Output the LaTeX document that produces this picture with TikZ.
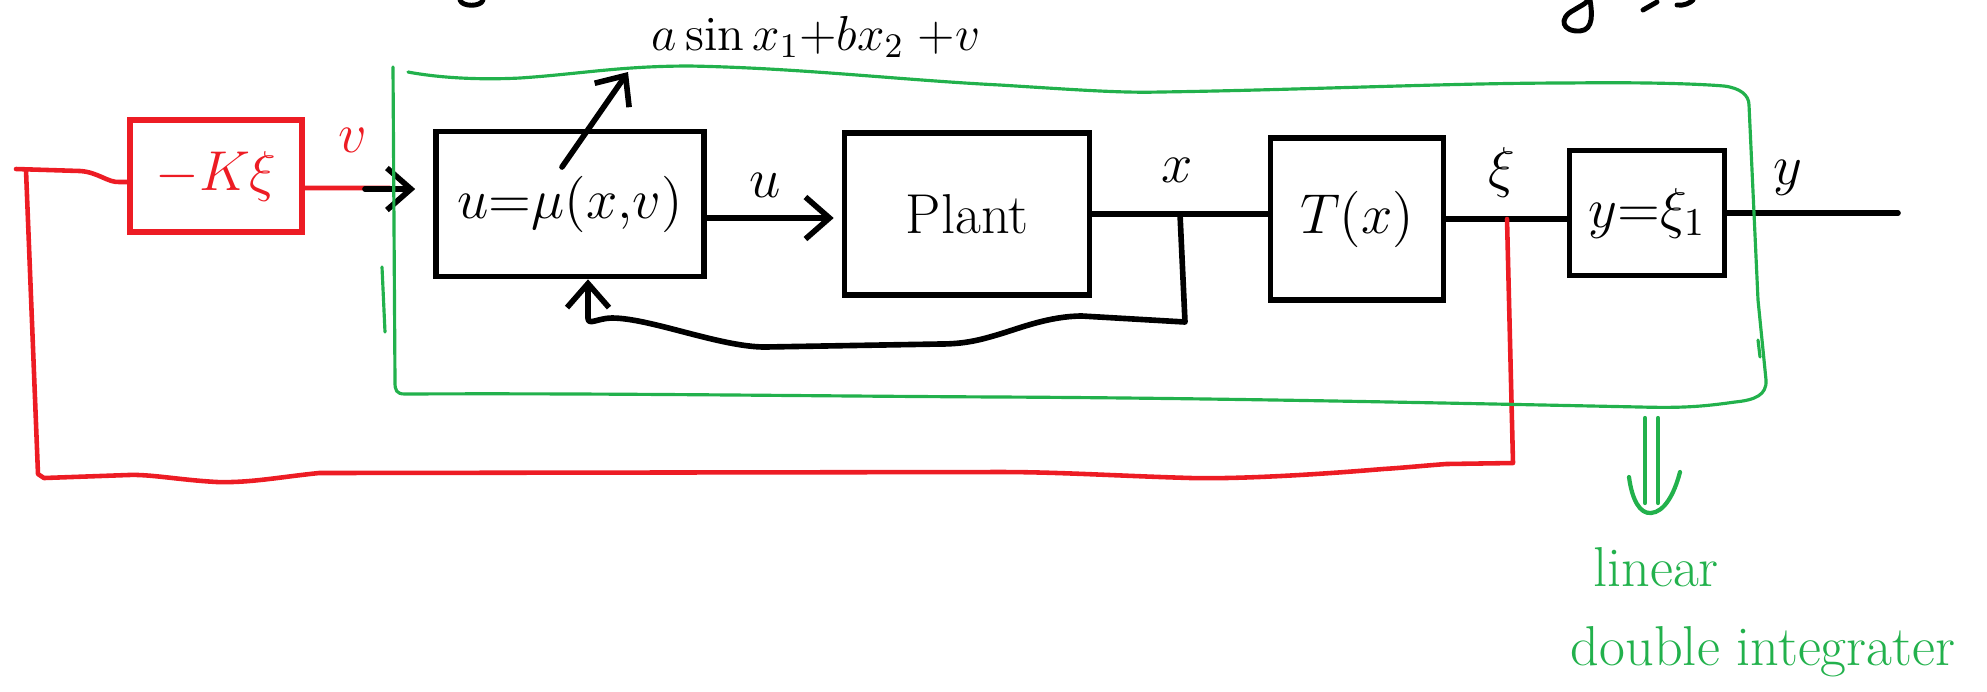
\RequirePackage{fix-cm}
\documentclass[tikz,border=0pt]{standalone}
\usepackage{fontspec}
\usetikzlibrary{arrows.meta,calc}
\definecolor{pred}{HTML}{ED1C24}
\definecolor{pgreen}{HTML}{22B14C}
\begin{document}
\begin{tikzpicture}[x=0.1mm,y=-0.1mm,
  wire/.style={line width=1.6pt, line cap=round, line join=round},
  arr/.style={wire, -{Straight Barb[length=2.4mm,width=4.2mm,line width=1.6pt]}},
  blk/.style={draw, line width=1.6pt, inner sep=0pt, font=\fontsize{16}{19}\selectfont},
  lbl/.style={inner sep=1pt, font=\fontsize{16}{19}\selectfont},
  annot/.style={inner sep=1pt, font=\fontsize{14}{17}\selectfont},
  redline/.style={wire, pred, line width=1.3pt},
  grline/.style={pgreen, line width=0.9pt, line cap=round, line join=round},
  gtext/.style={pgreen, inner sep=1pt, font=\fontsize{16}{19}\selectfont}]
\useasboundingbox (0,0) rectangle (1987,691);

% blocks
\node[blk, pred, minimum width=17.2mm, minimum height=11.2mm] (K) at (216,176) {$-K\xi$};
\node[blk, minimum width=26.8mm, minimum height=14.5mm] (U) at (570,204) {$u{=}\mu(x{,}v)$};
\node[blk, minimum width=24.5mm, minimum height=16.2mm] (P) at (967,214) {Plant};
\node[blk, minimum width=17.3mm, minimum height=16.2mm] (T) at (1357,219) {$T(x)$};
\node[blk, minimum width=15.5mm, minimum height=12.5mm] (Y) at (1647,213) {$y{=}\xi_1$};

% labels
\node[lbl, pred] (lv) at (353,140) {$v$};
\node[lbl] (lu) at (765,185) {$u$};
\node[lbl] (lx) at (1177,170) {$x$};
\node[lbl] (lxi) at (1502,172) {$\xi$};
\node[lbl] (ly) at (1788,178) {$y$};
\node[annot] (ann) at (816,37) {$a\sin x_1{+}bx_2\;{+}v$};
\node[gtext] (lin) at (1656,567) {linear};
\node[gtext] (dbl) at (1763,652) {double integrater};

% coordinates
\coordinate (rEnd) at (390,188);
\coordinate (vIn) at (365,189);
\coordinate (xBr) at (1180,214);
\coordinate (xiBr) at (1507,219);
\coordinate (yOut) at (1898,213);
\coordinate (annFrom) at (562,167);
\coordinate (annTip) at (628,72);

% v input
\draw[redline] ([yshift=-1.2mm]K.east) -- (rEnd);
\draw[arr, shorten >=1.8mm] (vIn) -- (vIn -| U.west);

% forward path
\draw[arr, shorten >=0.8mm] ([yshift=-1.4mm]U.east) -- ([yshift=-1.4mm]U.east -| P.west);
\draw[wire] (P.east) -- (P.east -| T.west);
\draw[wire] (T.east) -- (T.east -| Y.west);
\draw[wire] (Y.east) -- (yOut);

% state feedback into controller
\draw[arr] (xBr) -- (1185,322) -- (1082,316)
  .. controls (1050,316) and (1020,328) .. (1000,334)
  .. controls (980,340) and (965,344) .. (940,344)
  -- (765,347)
  .. controls (720,347) and (650,318) .. (612,318)
  .. controls (598,318) and (588,326) .. (588,318)
  -- ([xshift=1.8mm]U.south);

% annotation arrow
\draw[arr] (annFrom) -- (annTip);

% red outer loop
\draw[redline] (xiBr) -- (1513,463) -- (1446,464)
  .. controls (1420,466) and (1400,468) .. (1383,469)
  .. controls (1300,476) and (1230,479) .. (1191,478)
  .. controls (1120,476) and (1060,472) .. (1000,472)
  -- (319,473)
  .. controls (280,477) and (250,483) .. (217,482)
  .. controls (180,480) and (150,474) .. (128,475)
  -- (44,478) -- (38,474) -- (26,170)
  (16,169) -- (80,171)
  .. controls (98,172) and (108,183) .. (120,182)
  -- ([yshift=-0.6mm]K.west);

% green region
\draw[grline] (408,72)
  .. controls (440,78) and (480,80) .. (520,78)
  .. controls (580,74) and (620,66) .. (690,66)
  .. controls (800,68) and (900,80) .. (1000,85)
  .. controls (1080,90) and (1120,93) .. (1160,92)
  .. controls (1300,90) and (1450,83) .. (1566,83)
  .. controls (1650,82) and (1700,84) .. (1724,86)
  .. controls (1740,88) and (1749,95) .. (1749,105)
  -- (1758,300) -- (1766,380)
  .. controls (1767,395) and (1755,400) .. (1735,402)
  .. controls (1700,407) and (1680,408) .. (1640,407)
  .. controls (1400,402) and (1200,398) .. (1000,397)
  .. controls (800,396) and (600,393) .. (405,394)
  .. controls (396,394) and (395,390) .. (395,382)
  -- (393,67);
\draw[grline] (382,267) -- (385,332);
\draw[grline] (1758,340) -- (1760,357);

% double arrow
\coordinate (dA) at (1645,418);
\coordinate (dB) at (1658,418);
\draw[grline, line width=1.2pt] (dA) -- (1645,503) (dB) -- (1658,503);
\draw[grline, line width=1.2pt] (1629,477) .. controls (1632,500) and (1640,514) .. (1651,513)
  .. controls (1664,512) and (1674,495) .. (1680,472);

% cut-off fragments at top edge
\draw[wire, line width=1.4pt] (460,0) .. controls (462,7) and (481,7) .. (483,0);
\draw[wire, line width=1.4pt] (1590,0) .. controls (1592,12) and (1594,30) .. (1580,31)
  .. controls (1562,32) and (1558,18) .. (1574,10) .. controls (1580,6) and (1586,4) .. (1588,0);
\draw[wire, line width=1.4pt] (1643,10) -- (1657,2);
\draw[wire, line width=1.4pt] (1677,5) .. controls (1684,6) and (1690,3) .. (1693,0);
\end{tikzpicture}
\end{document}
